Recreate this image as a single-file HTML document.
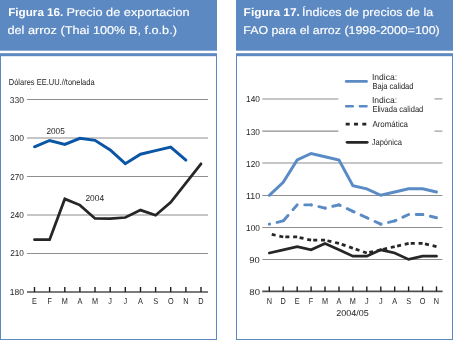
<!DOCTYPE html>
<html><head><meta charset="utf-8"><style>
html,body{margin:0;padding:0;background:#fff;width:453px;height:340px;overflow:hidden}
svg{display:block;will-change:transform}
text{text-rendering:geometricPrecision}
.tb{font-family:"Liberation Sans",sans-serif;font-size:11.3px;fill:#fff;font-weight:bold}
.t{font-family:"Liberation Sans",sans-serif;font-size:11.3px;fill:#fff;stroke:#fff;stroke-width:0.15px}
.s{font-family:"Liberation Sans",sans-serif;font-size:8.6px;fill:#262626}
</style></head><body>
<svg width="453" height="340" viewBox="0 0 453 340">
<rect x="0" y="0" width="217" height="50.7" fill="#5c89c1"/>
<rect x="0" y="53.2" width="217" height="3" fill="#5c89c1"/>
<rect x="0.5" y="54.5" width="216" height="285" fill="none" stroke="#5c89c1" stroke-width="1"/>
<rect x="236" y="0" width="217" height="50.7" fill="#5c89c1"/>
<rect x="236" y="53.2" width="217" height="3" fill="#5c89c1"/>
<rect x="236.5" y="54.5" width="216" height="285" fill="none" stroke="#5c89c1" stroke-width="1"/>
<rect x="30" y="88" width="1" height="1" fill="#c4c4c4"/>
<line x1="27" y1="99.5" x2="208" y2="99.5" stroke="#8e8e8e" stroke-width="1.05"/>
<line x1="27" y1="138.0" x2="208" y2="138.0" stroke="#8e8e8e" stroke-width="1.05"/>
<line x1="27" y1="176.5" x2="208" y2="176.5" stroke="#8e8e8e" stroke-width="1.05"/>
<line x1="27" y1="215.0" x2="208" y2="215.0" stroke="#8e8e8e" stroke-width="1.05"/>
<line x1="27" y1="253.5" x2="208" y2="253.5" stroke="#8e8e8e" stroke-width="1.05"/>
<line x1="27" y1="292.0" x2="208" y2="292.0" stroke="#505050" stroke-width="1.6"/>
<line x1="34.5" y1="287.0" x2="34.5" y2="292.0" stroke="#1e1e1e" stroke-width="1.4"/>
<text transform="translate(34.50,303.9) scale(0.85,1)" class="s m" text-anchor="middle">E</text>
<line x1="49.6" y1="287.0" x2="49.6" y2="292.0" stroke="#1e1e1e" stroke-width="1.4"/>
<text transform="translate(49.64,303.9) scale(0.85,1)" class="s m" text-anchor="middle">F</text>
<line x1="64.8" y1="287.0" x2="64.8" y2="292.0" stroke="#1e1e1e" stroke-width="1.4"/>
<text transform="translate(64.77,303.9) scale(0.85,1)" class="s m" text-anchor="middle">M</text>
<line x1="79.9" y1="287.0" x2="79.9" y2="292.0" stroke="#1e1e1e" stroke-width="1.4"/>
<text transform="translate(79.91,303.9) scale(0.85,1)" class="s m" text-anchor="middle">A</text>
<line x1="95.0" y1="287.0" x2="95.0" y2="292.0" stroke="#1e1e1e" stroke-width="1.4"/>
<text transform="translate(95.05,303.9) scale(0.85,1)" class="s m" text-anchor="middle">M</text>
<line x1="110.2" y1="287.0" x2="110.2" y2="292.0" stroke="#1e1e1e" stroke-width="1.4"/>
<text transform="translate(110.18,303.9) scale(0.85,1)" class="s m" text-anchor="middle">J</text>
<line x1="125.3" y1="287.0" x2="125.3" y2="292.0" stroke="#1e1e1e" stroke-width="1.4"/>
<text transform="translate(125.32,303.9) scale(0.85,1)" class="s m" text-anchor="middle">J</text>
<line x1="140.5" y1="287.0" x2="140.5" y2="292.0" stroke="#1e1e1e" stroke-width="1.4"/>
<text transform="translate(140.45,303.9) scale(0.85,1)" class="s m" text-anchor="middle">A</text>
<line x1="155.6" y1="287.0" x2="155.6" y2="292.0" stroke="#1e1e1e" stroke-width="1.4"/>
<text transform="translate(155.59,303.9) scale(0.85,1)" class="s m" text-anchor="middle">S</text>
<line x1="170.7" y1="287.0" x2="170.7" y2="292.0" stroke="#1e1e1e" stroke-width="1.4"/>
<text transform="translate(170.73,303.9) scale(0.85,1)" class="s m" text-anchor="middle">O</text>
<line x1="185.9" y1="287.0" x2="185.9" y2="292.0" stroke="#1e1e1e" stroke-width="1.4"/>
<text transform="translate(185.86,303.9) scale(0.85,1)" class="s m" text-anchor="middle">N</text>
<line x1="201.0" y1="287.0" x2="201.0" y2="292.0" stroke="#1e1e1e" stroke-width="1.4"/>
<text transform="translate(201.00,303.9) scale(0.85,1)" class="s m" text-anchor="middle">D</text>
<polyline points="34.5,146.8 49.6,140.5 64.8,144.4 79.9,138.3 95.0,140.3 110.2,150.0 125.3,163.7 140.5,154.2 155.6,150.6 170.7,147.1 185.9,160.1" fill="none" stroke="#0b55a6" stroke-width="2.95" stroke-linecap="round" stroke-linejoin="miter"/>
<polyline points="34.5,239.7 49.6,239.7 64.8,198.9 79.9,205.1 95.0,218.5 110.2,218.7 125.3,217.5 140.5,210.1 155.6,215.2 170.7,202.4 201.0,163.8" fill="none" stroke="#262626" stroke-width="2.75" stroke-linecap="round" stroke-linejoin="miter"/>
<line x1="262.3" y1="98.9" x2="338.4" y2="98.9" stroke="#8e8e8e" stroke-width="1.05"/>
<line x1="434.5" y1="98.9" x2="442.4" y2="98.9" stroke="#8e8e8e" stroke-width="1.05"/>
<line x1="262.3" y1="131.1" x2="338.4" y2="131.1" stroke="#8e8e8e" stroke-width="1.05"/>
<line x1="434.5" y1="131.1" x2="442.4" y2="131.1" stroke="#8e8e8e" stroke-width="1.05"/>
<line x1="262.3" y1="163.0" x2="442.4" y2="163.0" stroke="#8e8e8e" stroke-width="1.05"/>
<line x1="262.3" y1="195.5" x2="442.4" y2="195.5" stroke="#8e8e8e" stroke-width="1.05"/>
<line x1="262.3" y1="227.5" x2="442.4" y2="227.5" stroke="#8e8e8e" stroke-width="1.05"/>
<line x1="262.3" y1="259.4" x2="442.4" y2="259.4" stroke="#8e8e8e" stroke-width="1.05"/>
<line x1="262.2" y1="291.4" x2="442.6" y2="291.4" stroke="#505050" stroke-width="1.6"/>
<line x1="269.3" y1="286.4" x2="269.3" y2="291.4" stroke="#1e1e1e" stroke-width="1.4"/>
<text transform="translate(269.30,303.9) scale(0.85,1)" class="s m" text-anchor="middle">N</text>
<line x1="283.2" y1="286.4" x2="283.2" y2="291.4" stroke="#1e1e1e" stroke-width="1.4"/>
<text transform="translate(283.23,303.9) scale(0.85,1)" class="s m" text-anchor="middle">D</text>
<line x1="297.2" y1="286.4" x2="297.2" y2="291.4" stroke="#1e1e1e" stroke-width="1.4"/>
<text transform="translate(297.17,303.9) scale(0.85,1)" class="s m" text-anchor="middle">E</text>
<line x1="311.1" y1="286.4" x2="311.1" y2="291.4" stroke="#1e1e1e" stroke-width="1.4"/>
<text transform="translate(311.10,303.9) scale(0.85,1)" class="s m" text-anchor="middle">F</text>
<line x1="325.0" y1="286.4" x2="325.0" y2="291.4" stroke="#1e1e1e" stroke-width="1.4"/>
<text transform="translate(325.03,303.9) scale(0.85,1)" class="s m" text-anchor="middle">M</text>
<line x1="339.0" y1="286.4" x2="339.0" y2="291.4" stroke="#1e1e1e" stroke-width="1.4"/>
<text transform="translate(338.97,303.9) scale(0.85,1)" class="s m" text-anchor="middle">A</text>
<line x1="352.9" y1="286.4" x2="352.9" y2="291.4" stroke="#1e1e1e" stroke-width="1.4"/>
<text transform="translate(352.90,303.9) scale(0.85,1)" class="s m" text-anchor="middle">M</text>
<line x1="366.8" y1="286.4" x2="366.8" y2="291.4" stroke="#1e1e1e" stroke-width="1.4"/>
<text transform="translate(366.83,303.9) scale(0.85,1)" class="s m" text-anchor="middle">J</text>
<line x1="380.8" y1="286.4" x2="380.8" y2="291.4" stroke="#1e1e1e" stroke-width="1.4"/>
<text transform="translate(380.77,303.9) scale(0.85,1)" class="s m" text-anchor="middle">J</text>
<line x1="394.7" y1="286.4" x2="394.7" y2="291.4" stroke="#1e1e1e" stroke-width="1.4"/>
<text transform="translate(394.70,303.9) scale(0.85,1)" class="s m" text-anchor="middle">A</text>
<line x1="408.6" y1="286.4" x2="408.6" y2="291.4" stroke="#1e1e1e" stroke-width="1.4"/>
<text transform="translate(408.63,303.9) scale(0.85,1)" class="s m" text-anchor="middle">S</text>
<line x1="422.6" y1="286.4" x2="422.6" y2="291.4" stroke="#1e1e1e" stroke-width="1.4"/>
<text transform="translate(422.57,303.9) scale(0.85,1)" class="s m" text-anchor="middle">O</text>
<line x1="436.5" y1="286.4" x2="436.5" y2="291.4" stroke="#1e1e1e" stroke-width="1.4"/>
<text transform="translate(436.50,303.9) scale(0.85,1)" class="s m" text-anchor="middle">N</text>
<polyline points="269.3,195.3 283.2,182.4 297.2,160.0 311.1,153.5 325.0,156.7 339.0,160.0 352.9,185.6 366.8,188.8 380.8,195.3 394.7,192.0 408.6,188.8 422.6,188.8 436.5,192.0" fill="none" stroke="#5a8bc5" stroke-width="2.95" stroke-linecap="round"/>
<line x1="269.30" y1="224.14" x2="283.23" y2="220.93" stroke="#5a8bc5" stroke-width="2.95" stroke-linecap="round" stroke-dasharray="6.3 7.7" stroke-dashoffset="6.00"/>
<line x1="283.23" y1="220.93" x2="297.17" y2="204.88" stroke="#5a8bc5" stroke-width="2.95" stroke-linecap="round" stroke-dasharray="6.3 7.7" stroke-dashoffset="13.05"/>
<line x1="297.17" y1="204.88" x2="311.10" y2="204.88" stroke="#5a8bc5" stroke-width="2.95" stroke-linecap="round" stroke-dasharray="6.3 7.7" stroke-dashoffset="6.37"/>
<line x1="311.10" y1="204.88" x2="325.03" y2="208.09" stroke="#5a8bc5" stroke-width="2.95" stroke-linecap="round" stroke-dasharray="6.3 7.7" stroke-dashoffset="6.00"/>
<line x1="325.03" y1="208.09" x2="338.97" y2="204.88" stroke="#5a8bc5" stroke-width="2.95" stroke-linecap="round" stroke-dasharray="6.3 7.7" stroke-dashoffset="6.00"/>
<line x1="338.97" y1="204.88" x2="352.90" y2="211.30" stroke="#5a8bc5" stroke-width="2.95" stroke-linecap="round" stroke-dasharray="6.3 7.7" stroke-dashoffset="4.96"/>
<line x1="352.90" y1="211.30" x2="366.83" y2="217.72" stroke="#5a8bc5" stroke-width="2.95" stroke-linecap="round" stroke-dasharray="6.3 7.7" stroke-dashoffset="4.96"/>
<line x1="366.83" y1="217.72" x2="380.77" y2="224.14" stroke="#5a8bc5" stroke-width="2.95" stroke-linecap="round" stroke-dasharray="6.3 7.7" stroke-dashoffset="4.96"/>
<line x1="380.77" y1="224.14" x2="394.70" y2="220.93" stroke="#5a8bc5" stroke-width="2.95" stroke-linecap="round" stroke-dasharray="6.3 7.7" stroke-dashoffset="6.00"/>
<line x1="394.70" y1="220.93" x2="408.63" y2="214.51" stroke="#5a8bc5" stroke-width="2.95" stroke-linecap="round" stroke-dasharray="6.3 7.7" stroke-dashoffset="4.96"/>
<line x1="408.63" y1="214.51" x2="422.57" y2="214.51" stroke="#5a8bc5" stroke-width="2.95" stroke-linecap="round" stroke-dasharray="6.3 7.7" stroke-dashoffset="6.37"/>
<line x1="422.57" y1="214.51" x2="436.50" y2="217.72" stroke="#5a8bc5" stroke-width="2.95" stroke-linecap="round" stroke-dasharray="6.3 7.7" stroke-dashoffset="6.00"/>
<line x1="269.30" y1="233.77" x2="283.23" y2="236.98" stroke="#262626" stroke-width="2.75" stroke-linecap="butt" stroke-dasharray="4.0 3.8" stroke-dashoffset="5.30"/>
<line x1="283.23" y1="236.98" x2="297.17" y2="236.98" stroke="#262626" stroke-width="2.75" stroke-linecap="butt" stroke-dasharray="4.0 3.8" stroke-dashoffset="5.67"/>
<line x1="297.17" y1="236.98" x2="311.10" y2="240.19" stroke="#262626" stroke-width="2.75" stroke-linecap="butt" stroke-dasharray="4.0 3.8" stroke-dashoffset="5.30"/>
<line x1="311.10" y1="240.19" x2="325.03" y2="240.19" stroke="#262626" stroke-width="2.75" stroke-linecap="butt" stroke-dasharray="4.0 3.8" stroke-dashoffset="5.67"/>
<line x1="325.03" y1="240.19" x2="338.97" y2="243.40" stroke="#262626" stroke-width="2.75" stroke-linecap="butt" stroke-dasharray="4.0 3.8" stroke-dashoffset="5.30"/>
<line x1="338.97" y1="243.40" x2="352.90" y2="248.21" stroke="#262626" stroke-width="2.75" stroke-linecap="butt" stroke-dasharray="4.0 3.8" stroke-dashoffset="4.86"/>
<line x1="352.90" y1="248.21" x2="366.83" y2="253.02" stroke="#262626" stroke-width="2.75" stroke-linecap="butt" stroke-dasharray="4.0 3.8" stroke-dashoffset="4.86"/>
<line x1="366.83" y1="253.02" x2="380.77" y2="249.82" stroke="#262626" stroke-width="2.75" stroke-linecap="butt" stroke-dasharray="4.0 3.8" stroke-dashoffset="5.30"/>
<line x1="380.77" y1="249.82" x2="394.70" y2="246.61" stroke="#262626" stroke-width="2.75" stroke-linecap="butt" stroke-dasharray="4.0 3.8" stroke-dashoffset="5.30"/>
<line x1="394.70" y1="246.61" x2="408.63" y2="243.40" stroke="#262626" stroke-width="2.75" stroke-linecap="butt" stroke-dasharray="4.0 3.8" stroke-dashoffset="5.30"/>
<line x1="408.63" y1="243.40" x2="422.57" y2="243.40" stroke="#262626" stroke-width="2.75" stroke-linecap="butt" stroke-dasharray="4.0 3.8" stroke-dashoffset="5.67"/>
<line x1="422.57" y1="243.40" x2="436.50" y2="246.61" stroke="#262626" stroke-width="2.75" stroke-linecap="butt" stroke-dasharray="4.0 3.8" stroke-dashoffset="5.30"/>
<polyline points="269.3,253.0 283.2,249.8 297.2,246.6 311.1,249.8 325.0,243.4 339.0,249.8 352.9,256.2 366.8,256.2 380.8,249.8 394.7,253.0 408.6,259.4 422.6,256.2 436.5,256.2" fill="none" stroke="#262626" stroke-width="2.75" stroke-linecap="round"/>
<line x1="346.2" y1="81.4" x2="366.6" y2="81.4" stroke="#5a8bc5" stroke-width="2.6" stroke-linecap="round"/>
<line x1="346.2" y1="106.2" x2="366.6" y2="106.2" stroke="#5a8bc5" stroke-width="2.6" stroke-linecap="round" stroke-dasharray="6.6 7.1"/>
<line x1="345.7" y1="124.1" x2="366.5" y2="124.1" stroke="#262626" stroke-width="2.6" stroke-dasharray="4 4.3"/>
<line x1="347.1" y1="142.3" x2="367.2" y2="142.3" stroke="#262626" stroke-width="2.8" stroke-linecap="round"/>
<text x="8.19" y="16.30" class="tb k" textLength="55.18" lengthAdjust="spacingAndGlyphs">Figura 16.</text>
<text x="66.47" y="16.30" class="t k" textLength="123.25" lengthAdjust="spacingAndGlyphs">Precio de exportacion</text>
<text x="7.49" y="34.10" class="t k" textLength="169.44" lengthAdjust="spacingAndGlyphs">del arroz (Thai 100% B, f.o.b.)</text>
<text x="243.62" y="16.40" class="tb k" textLength="56.28" lengthAdjust="spacingAndGlyphs">Figura 17.</text>
<text x="302.06" y="16.40" class="t k" textLength="131.09" lengthAdjust="spacingAndGlyphs">Índices de precios de la</text>
<text x="243.28" y="33.80" class="t k" textLength="196.43" lengthAdjust="spacingAndGlyphs">FAO para el arroz (1998-2000=100)</text>
<text x="8.79" y="85.00" class="s k" textLength="85.79" lengthAdjust="spacingAndGlyphs">Dólares EE.UU.//tonelada</text>
<text x="9.70" y="102.90" class="s k" textLength="14.19" lengthAdjust="spacingAndGlyphs">330</text>
<text x="9.70" y="141.00" class="s k" textLength="14.19" lengthAdjust="spacingAndGlyphs">300</text>
<text x="10.13" y="179.60" class="s k" textLength="13.70" lengthAdjust="spacingAndGlyphs">270</text>
<text x="10.13" y="217.90" class="s k" textLength="13.70" lengthAdjust="spacingAndGlyphs">240</text>
<text x="10.13" y="256.30" class="s k" textLength="13.70" lengthAdjust="spacingAndGlyphs">210</text>
<text x="9.70" y="294.60" class="s k" textLength="14.24" lengthAdjust="spacingAndGlyphs">180</text>
<text x="46.43" y="133.70" class="s k" textLength="18.40" lengthAdjust="spacingAndGlyphs">2005</text>
<text x="85.38" y="200.70" class="s k" textLength="18.68" lengthAdjust="spacingAndGlyphs">2004</text>
<text x="246.04" y="102.40" class="s k" textLength="13.84" lengthAdjust="spacingAndGlyphs">140</text>
<text x="246.04" y="134.60" class="s k" textLength="13.84" lengthAdjust="spacingAndGlyphs">130</text>
<text x="246.04" y="166.70" class="s k" textLength="13.84" lengthAdjust="spacingAndGlyphs">120</text>
<text x="246.04" y="198.80" class="s k" textLength="14.03" lengthAdjust="spacingAndGlyphs">110</text>
<text x="246.04" y="230.90" class="s k" textLength="13.84" lengthAdjust="spacingAndGlyphs">100</text>
<text x="249.24" y="263.00" class="s k" textLength="10.44" lengthAdjust="spacingAndGlyphs">90</text>
<text x="249.37" y="295.10" class="s k" textLength="10.57" lengthAdjust="spacingAndGlyphs">80</text>
<text x="336.27" y="315.70" class="s k" textLength="32.48" lengthAdjust="spacingAndGlyphs">2004/05</text>
<text x="371.93" y="79.50" class="s k" textLength="25.19" lengthAdjust="spacingAndGlyphs">Indica:</text>
<text x="372.38" y="88.60" class="s k" textLength="41.13" lengthAdjust="spacingAndGlyphs">Baja calidad</text>
<text x="371.93" y="103.30" class="s k" textLength="25.19" lengthAdjust="spacingAndGlyphs">Indica:</text>
<text x="372.40" y="112.10" class="s k" textLength="50.94" lengthAdjust="spacingAndGlyphs">Elivada calidad</text>
<text x="372.41" y="126.60" class="s k" textLength="35.58" lengthAdjust="spacingAndGlyphs">Aromática</text>
<text x="371.66" y="145.40" class="s k" textLength="30.25" lengthAdjust="spacingAndGlyphs">Japónica</text>
</svg>
</body></html>
